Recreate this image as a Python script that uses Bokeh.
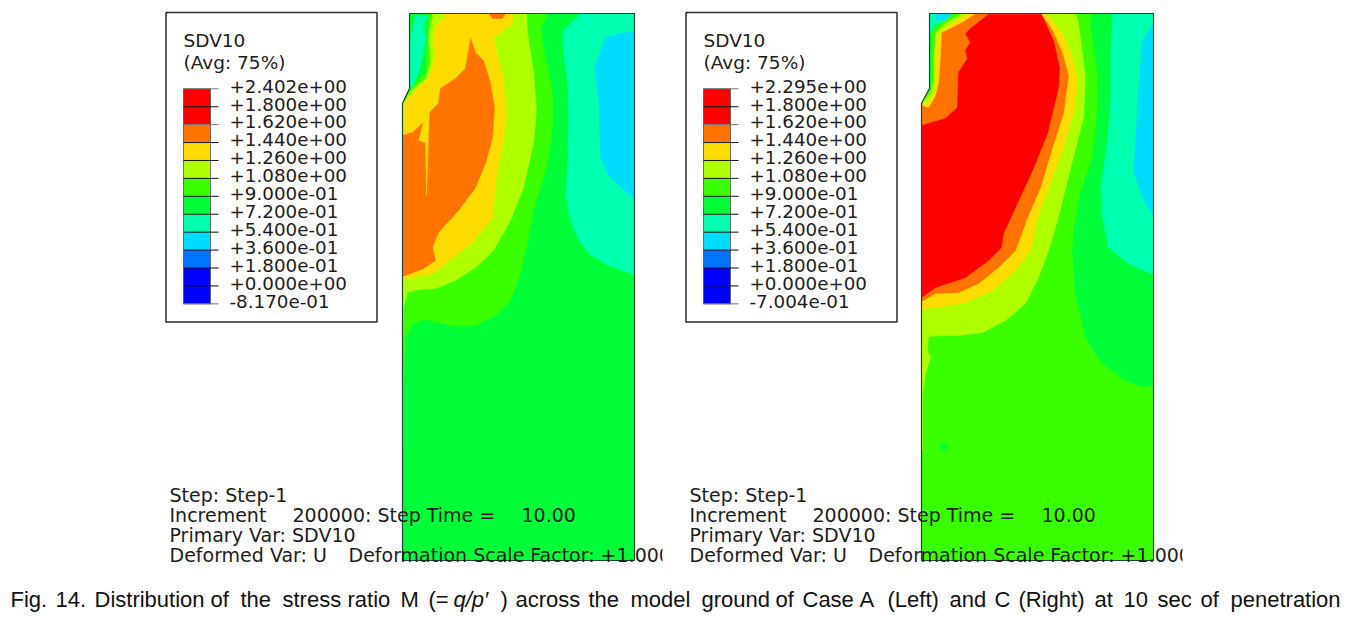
from bokeh.plotting import figure
from bokeh.models import Range1d
from bokeh.core.properties import value
from bokeh.embed import file_html
from bokeh.resources import INLINE

# ---- legend data ----
band_colors = ["#FF0000","#FF0000","#FF7300","#FFDC00","#AEFF00","#39FF00",
               "#00FF39","#00FFAE","#00DCFF","#0073FF","#0000FF","#0000FF"]
labels_a = ["+2.402e+00","+1.800e+00","+1.620e+00","+1.440e+00","+1.260e+00","+1.080e+00","+9.000e-01",
            "+7.200e-01","+5.400e-01","+3.600e-01","+1.800e-01","+0.000e+00","-8.170e-01"]
labels_c = ["+2.295e+00","+1.800e+00","+1.620e+00","+1.440e+00","+1.260e+00","+1.080e+00","+9.000e-01",
            "+7.200e-01","+5.400e-01","+3.600e-01","+1.800e-01","+0.000e+00","-7.004e-01"]

RED, ORANGE, YELLOW, LIME, GRASS, GREEN, TEAL, CYAN = band_colors[0], band_colors[2], band_colors[3], band_colors[4], band_colors[5], band_colors[6], band_colors[7], band_colors[8]

# ---- Case A contour bands (x, y) ----
a_outline = [(409,13),(634,13),(634,560),(402,560),(402,103),(409,88)]
a_teal = [(580,13),(563,30),(562,40),(567,83),(568,117),(567,167),(565,193),(570,220),(577,237),(588,253),(608,265),(634,274),(634,13)]
a_cyan = [(634,30),(605,37),(594,67),(598,97),(600,157),(608,175),(634,199)]
a_grass = [(547,13),(540,28),(545,57),(552,93),(552,127),(547,163),(533,210),(527,240),(520,273),(510,300),(495,315),(475,325),
           (458,326),(438,322),(425,319),(412,323),(405,337),(403,383),(403,450),(402,450),(402,103),(409,88),(411,85),(425,72),(427,40),(428,13)]
a_lime = [(526,13),(527,33),(533,70),(536,110),(533,143),(523,187),(510,220),(493,250),(475,267),(455,280),(435,288),(418,289),(407,292),
          (403,307),(402,350),(402,103),(413,88),(425,78),(430,62),(428,38),(432,15),(432,13)]
a_yellow = [(513,13),(512,23),(493,37),(497,57),(503,80),(506,113),(503,140),(495,180),(493,210),(492,217),(472,242),(445,263),(432,273),
            (415,276),(402,280),(402,105),(408,97),(417,88),(428,78),(435,55),(433,38),(435,25),(443,18),(443,13)]
a_orange_top = [(488,13),(505,13),(502,18),(492,18)]
a_orange = [(470,38),(475,52),(483,60),(490,83),(494,107),(492,137),(485,163),(475,187),(458,210),(438,232),(432,247),(435,260),(423,268),
            (402,276),(402,135),(412,132),(423,122),(428,113),(438,103),(440,88),(455,78),(465,68)]
a_spike = [(423,122),(418,140),(425,142),(426,195),(428,135),(429,105)]
a_cold = [(415,15),(427,15),(423,25),(425,38),(422,55),(418,72),(412,87),(409,83),(410,38)]

# ---- Case C contour bands ----
c_outline = [(929,13),(1153,13),(1153,560),(921,560),(921,103),(929,88)]
c_green = [(1092,13),(1090,23),(1097,73),(1097,110),(1092,157),(1080,193),(1073,233),(1072,250),(1075,293),(1085,337),(1102,363),(1125,380),(1142,386),(1153,385),(1153,13)]
c_teal = [(1112,13),(1110,53),(1110,100),(1107,140),(1100,187),(1102,217),(1108,247),(1128,263),(1153,274),(1153,13)]
c_cyan = [(1153,23),(1142,40),(1138,93),(1133,170),(1142,197),(1153,215)]
c_spot = [(940,443),(945,442),(948,447),(944,450),(940,448)]
c_lime = [(1075,13),(1078,23),(1085,77),(1083,117),(1072,160),(1062,200),(1055,227),(1048,250),(1038,277),(1025,303),(1005,320),(982,332),(958,335),
          (942,335),(928,336),(927,350),(930,357),(925,373),(922,393),(922,450),(921,450),(921,103),(929,88),(929,13)]
c_yellow = [(1046,14),(1062,33),(1072,57),(1077,80),(1074,107),(1065,140),(1052,177),(1040,208),(1035,227),(1030,250),(1015,270),(992,290),(965,302),
            (938,307),(925,308),(921,310),(921,103),(929,88),(929,13)]
c_orange = [(1041,14),(1052,30),(1062,53),(1068,75),(1063,113),(1052,147),(1040,187),(1027,217),(1015,250),(998,267),(978,283),(958,292),(935,293),
            (923,300),(921,300),(921,103),(929,88),(929,13)]
c_red = [(988,14),(1041,14),(1053,40),(1059,67),(1058,87),(1047,133),(1032,170),(1015,207),(1003,233),(1001,247),(988,260),(965,277),(935,287),(921,297),
         (921,125),(945,118),(957,107),(958,72),(967,58),(965,50),(970,42),(965,33),(970,28)]
c_tl_orange = [(929,13),(983,13),(952,32),(947,67),(938,103),(921,107),(921,103),(929,88)]
c_tl_yellow = [(929,13),(975,13),(961,22),(941,32),(940,55),(938,82),(935,95),(928,107),(922,105),(921,103),(929,88)]
c_tl_lime = [(929,13),(966,13),(951,23),(936,35),(935,62),(935,85),(933,95),(926,103),(921,103),(929,88)]
c_tl_grass = [(929,13),(961,13),(945,22),(935,32),(933,55),(933,78),(930,92),(925,98),(929,88)]
c_tl_green = [(929,13),(951,13),(936,25),(931,32),(930,88),(929,88)]
c_tl_teal = [(929,13),(950,13),(945,20),(935,24),(930,32),(929,32)]
c_tl_cyan = [(935,14),(950,14),(945,19),(936,20)]

layers_a = [(a_outline,GREEN),(a_teal,TEAL),(a_cyan,CYAN),(a_grass,GRASS),(a_lime,LIME),(a_yellow,YELLOW),
            (a_orange_top,ORANGE),(a_orange,ORANGE),(a_spike,YELLOW),(a_cold,TEAL)]
layers_c = [(c_outline,GRASS),(c_spot,GREEN),(c_green,GREEN),(c_teal,TEAL),(c_cyan,CYAN),(c_lime,LIME),(c_yellow,YELLOW),(c_orange,ORANGE),
            (c_red,RED),(c_tl_orange,ORANGE),(c_tl_yellow,YELLOW),(c_tl_lime,LIME),(c_tl_grass,GRASS),(c_tl_green,GREEN),(c_tl_teal,TEAL),(c_tl_cyan,CYAN)]

# ---- status text and caption ----
status_rows = [["Step: Step-1"],
               ["Increment", "200000: Step Time =", "10.00"],
               ["Primary Var: SDV10"],
               ["Deformed Var: U", "Deformation Scale Factor: +1.000"]]
caption_words = ["Fig.","14.","Distribution","of","the","stress","ratio","M","(=","q/p\u2032",")","across","the","model","ground","of","Case","A","(Left)","and","C","(Right)","at","10","sec","of","penetration"]
caption_x = [10,55,94,210,240,282,347,400,428,453,500,515,588,630,701,775,802,859,887,949,994,1018,1094,1123,1157,1200,1230]

p = figure(width=1350, height=615, x_range=Range1d(0,1350), y_range=Range1d(615,0), output_backend="svg",
           toolbar_location=None, x_axis_type=None, y_axis_type=None, min_border=0)
p.grid.visible = False
p.outline_line_color = None
p.background_fill_color = "white"
p.border_fill_color = "white"

FONT = value("DejaVu Sans")
INK = "#1d1d1d"

def polygons(layers):
    for pts, col in layers:
        p.patch([q[0] for q in pts], [q[1] for q in pts], fill_color=col, line_color=col, line_width=0.5)
    o = layers[0][0]
    p.patch([q[0] for q in o], [q[1] for q in o], fill_color=None, line_color="#24463a", line_width=1.2)

def legend(dx, labels):
    x0, y0, dy = 183+dx, 88.3, 17.92
    p.quad(left=165.5+dx, right=376.5+dx, top=12, bottom=321.5, fill_color="white", line_color="#2b2b2b", line_width=1.5)
    tops = [y0+i*dy for i in range(len(band_colors))]
    p.quad(left=x0, right=x0+27, top=tops, bottom=[t+dy for t in tops], fill_color=band_colors, line_color=None)
    p.quad(left=x0, right=x0+27, top=y0, bottom=y0+12*dy, fill_color=None, line_color="#555555", line_width=0.8)
    ys = [y0+i*dy for i in range(len(labels))]
    p.segment(x0=[x0]*13, x1=[x0+35]*13, y0=ys, y1=ys, line_color=["#777777" if i in (0,2,12) else "#111111" for i in range(13)], line_width=1.0)
    p.text(x=[x0+46]*13, y=[y-2.7 for y in ys], text=labels, text_font=FONT, text_font_size="18.3px", text_color=INK, text_baseline="middle")
    p.text(x=[x0]*2, y=[40,62], text=["SDV10","(Avg: 75%)"], text_font=FONT, text_font_size="18.5px", text_color=INK, text_baseline="middle")

def stext(xs, y, rows):
    p.text(x=xs, y=[y]*len(xs), text=rows, text_font=FONT, text_font_size="19px", text_color=INK, text_baseline="middle")

def status(dx, xs):
    stext([169+dx], 494.5, status_rows[0])
    stext([169+dx, xs[0], xs[1]], 514.5, status_rows[1])
    stext([169+dx], 534.5, status_rows[2])
    stext([169+dx, xs[2]], 554.5, status_rows[3])
    p.quad(left=xs[3], right=xs[3]+30, top=545, bottom=570, fill_color="white", line_color=None)

polygons(layers_a)
polygons(layers_c)
legend(0, labels_a)
legend(520, labels_c)
status(0, [292, 521, 348, 662])
status(520, [812, 1041, 868, 1182])

for w, x in zip(caption_words, caption_x):
    style = "italic" if w.startswith("q/p") else "normal"
    p.text(x=[x], y=[599], text=[w], text_font=value("Liberation Sans"), text_font_size="22px", text_font_style=style, text_color="#111111", text_baseline="middle")

open("out.html", "w").write(file_html(p, INLINE))
